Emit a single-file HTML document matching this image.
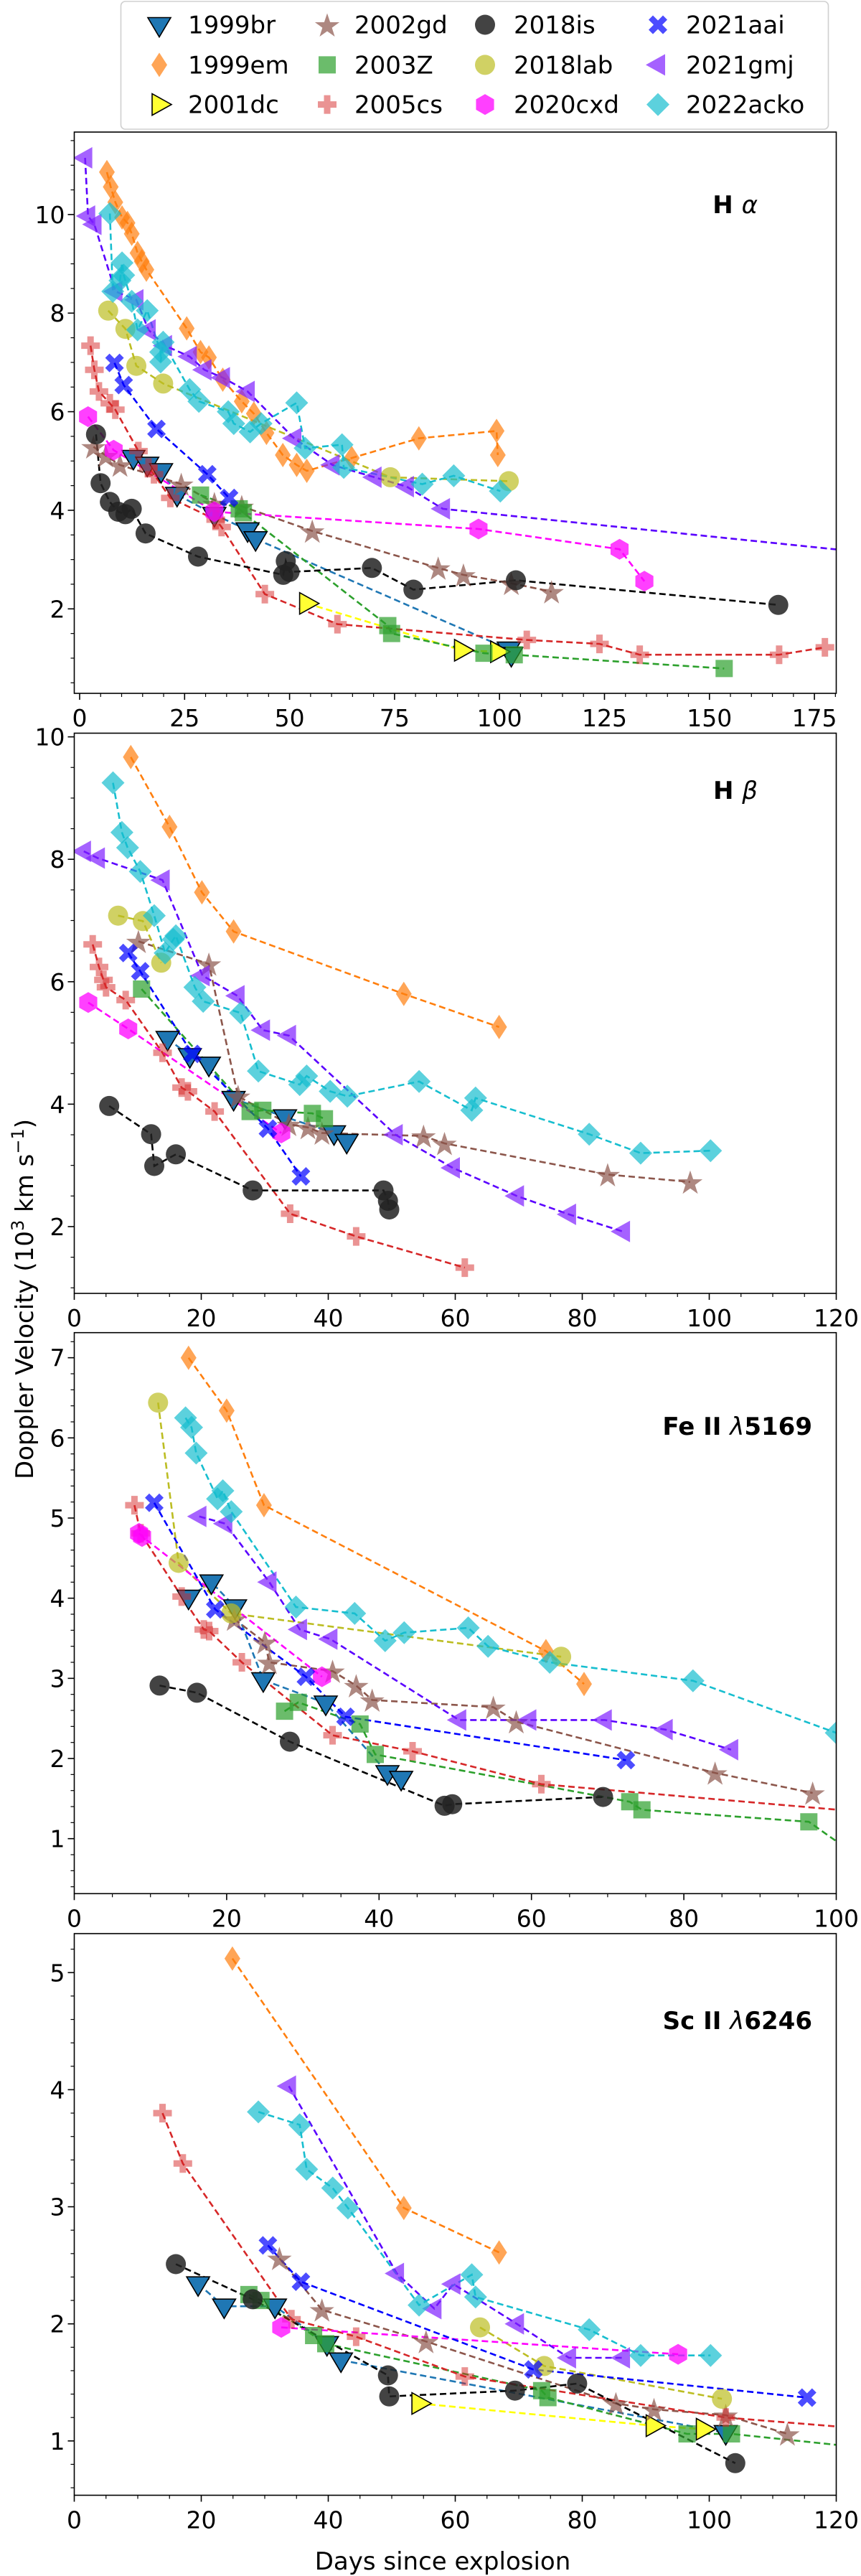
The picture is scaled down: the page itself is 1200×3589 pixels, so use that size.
<!DOCTYPE html>
<html><head><meta charset="utf-8"><title>Doppler velocity evolution</title>
<style>
html,body{margin:0;padding:0;background:#fff;}
svg{display:block;font-family:"DejaVu Sans","Liberation Sans",sans-serif;}
</style></head>
<body>
<svg id="fig" width="1200" height="3589" viewBox="0 0 1200 3589" xmlns="http://www.w3.org/2000/svg">
<rect x="0" y="0" width="1200" height="3589" fill="#fff"/>
</svg>
<script>
// ---------- data: [day, velocity (10^3 km/s)] ----------
const snNames = ["1999br","1999em","2001dc","2002gd","2003Z","2005cs","2018is","2018lab","2020cxd","2021aai","2021gmj","2022acko"];

// H alpha
const ha_1999br = [[12.8,5.07],[16.1,4.93],[19.4,4.80],[23.2,4.32],[32.1,3.91],[40.0,3.60],[41.9,3.42],[102.2,1.18],[102.8,1.07]];
const ha_1999em = [[6.5,10.86],[7.4,10.56],[8.5,10.25],[10.1,9.94],[11.4,9.83],[12.4,9.61],[13.8,9.22],[14.8,9.05],[15.9,8.88],[25.5,7.69],[28.8,7.21],[30.8,7.10],[34.1,6.65],[38.6,6.21],[41.5,5.96],[44.5,5.57],[48.4,5.12],[51.7,4.92],[54.1,4.80],[64.8,5.06],[80.8,5.46],[99.3,5.61],[99.6,5.12]];
const ha_2001dc = [[54.1,2.11],[91.0,1.16],[99.6,1.13]];
const ha_2002gd = [[3.3,5.29],[6.2,5.11],[9.6,4.92],[24.2,4.53],[32.1,4.14],[38.6,4.08],[55.4,3.58],[85.4,2.83],[91.4,2.69],[102.8,2.52],[112.4,2.35]];
const ha_2003Z = [[28.8,4.31],[38.0,4.03],[39.0,3.95],[73.4,1.66],[74.3,1.50],[96.3,1.10],[103.5,1.07],[153.5,0.79]];
const ha_2005cs = [[2.6,7.34],[3.5,6.85],[4.6,6.41],[7.2,6.17],[8.5,6.04],[14.0,5.20],[16.4,4.87],[17.7,4.73],[21.6,4.25],[32.4,3.81],[33.8,3.66],[44.1,2.30],[61.4,1.69],[106.5,1.37],[123.8,1.29],[133.4,1.07],[166.6,1.07],[177.5,1.22]];
const ha_2018is = [[3.9,5.54],[5.0,4.55],[7.2,4.17],[9.2,3.97],[10.9,3.92],[12.4,4.03],[15.7,3.53],[28.2,3.06],[48.5,2.69],[49.1,2.97],[50.0,2.75],[69.6,2.83],[79.5,2.39],[103.9,2.58],[166.4,2.08]];
const ha_2018lab = [[6.8,8.05],[10.9,7.68],[13.5,6.93],[19.9,6.57],[74.0,4.67],[102.2,4.59]];
const ha_2020cxd = [[2.0,5.90],[8.1,5.22],[32.1,3.97],[95.0,3.62],[128.6,3.21],[134.5,2.56]];
const ha_2021aai = [[8.3,6.99],[10.5,6.54],[18.3,5.65],[30.4,4.73],[35.6,4.25]];
const ha_2021gmj = [[1.3,11.15],[2.0,9.97],[3.5,9.80],[8.5,8.44],[13.5,8.27],[16.4,7.66],[20.3,7.34],[26.2,7.12],[29.7,6.85],[34.1,6.69],[40.0,6.41],[51.1,5.46],[60.2,4.92],[70.2,4.67],[77.9,4.48],[86.5,4.03],[190.0,3.12]];
const ha_2022acko = [[7.2,10.02],[7.9,8.44],[9.6,8.66],[10.1,9.02],[10.5,8.77],[12.4,8.24],[13.8,7.66],[16.1,8.05],[19.3,7.21],[19.3,7.01],[19.9,7.41],[26.2,6.45],[28.4,6.21],[35.4,6.00],[36.7,5.76],[40.6,5.59],[43.2,5.76],[51.7,6.18],[53.7,5.26],[62.5,5.33],[62.9,4.87],[81.6,4.53],[89.1,4.70],[100.2,4.39]];

// H beta
const hb_1999br = [[14.7,5.07],[18.2,4.79],[21.2,4.65],[25.1,4.09],[33.2,3.79],[40.9,3.53],[42.9,3.39]];
const hb_1999em = [[8.9,9.67],[15.0,8.53],[20.1,7.46],[25.1,6.82],[51.9,5.80],[66.9,5.26]];
const hb_2001dc = [];
const hb_2002gd = [[10.1,6.66],[21.2,6.29],[25.8,4.13],[33.8,3.67],[36.8,3.62],[39.0,3.53],[55.0,3.48],[58.3,3.36],[84.0,2.85],[97.0,2.73]];
const hb_2003Z = [[10.6,5.88],[27.7,3.88],[29.7,3.90],[37.5,3.85],[39.4,3.76]];
const hb_2005cs = [[2.9,6.61],[3.9,6.24],[4.6,6.03],[5.0,5.91],[8.1,5.70],[13.9,4.84],[16.9,4.27],[17.9,4.21],[22.1,3.88],[34.0,2.21],[44.4,1.84],[61.5,1.33]];
const hb_2018is = [[5.5,3.97],[12.1,3.51],[12.6,2.99],[16.0,3.18],[28.1,2.59],[48.7,2.59],[49.4,2.42],[49.6,2.28]];
const hb_2018lab = [[6.9,7.08],[10.8,6.99],[13.7,6.31]];
const hb_2020cxd = [[2.2,5.66],[8.5,5.23],[32.6,3.53]];
const hb_2021aai = [[8.5,6.47],[10.4,6.17],[18.6,4.82],[30.5,3.60],[35.7,2.82]];
const hb_2021gmj = [[1.5,8.13],[3.7,8.02],[13.9,7.66],[20.2,6.10],[25.7,5.77],[29.7,5.21],[33.8,5.12],[50.6,3.50],[59.6,2.96],[69.7,2.50],[77.9,2.20],[86.4,1.92]];
const hb_2022acko = [[6.1,9.25],[7.5,8.44],[8.4,8.19],[10.4,7.80],[12.6,7.08],[14.3,6.47],[15.6,6.69],[16.0,6.75],[19.0,5.91],[20.3,5.68],[26.2,5.49],[29.0,4.54],[35.5,4.32],[36.6,4.46],[40.3,4.21],[43.0,4.13],[54.3,4.37],[62.6,3.90],[63.2,4.10],[81.1,3.51],[89.2,3.20],[100.2,3.24]];

// Fe II 5169
const fe_1999br = [[15.0,4.01],[18.0,4.20],[21.1,3.89],[24.8,2.98],[33.0,2.69],[41.1,1.82],[42.9,1.75]];
const fe_1999em = [[15.0,7.00],[20.0,6.34],[24.9,5.16],[61.9,3.34],[66.9,2.93]];
const fe_2001dc = [];
const fe_2002gd = [[21.0,3.74],[25.0,3.45],[25.6,3.20],[33.9,3.09],[37.0,2.91],[39.1,2.73],[55.0,2.64],[58.0,2.46],[84.1,1.82],[96.9,1.57]];
const fe_2003Z = [[27.6,2.59],[29.4,2.70],[37.5,2.43],[39.5,2.05],[72.9,1.46],[74.5,1.36],[96.4,1.21],[104.0,0.70]];
const fe_2005cs = [[7.9,5.16],[8.7,4.81],[14.1,4.02],[17.0,3.61],[17.7,3.59],[22.0,3.20],[33.9,2.29],[44.4,2.09],[61.3,1.68],[110.0,1.28]];
const fe_2018is = [[11.2,2.91],[16.1,2.82],[28.3,2.21],[48.6,1.41],[49.6,1.43],[69.4,1.52]];
const fe_2018lab = [[11.0,6.44],[13.7,4.44],[20.6,3.81],[63.9,3.27]];
const fe_2020cxd = [[8.5,4.81],[8.9,4.77],[32.5,3.02]];
const fe_2021aai = [[10.5,5.19],[18.5,3.86],[30.4,3.02],[35.6,2.52],[72.4,1.98]];
const fe_2021gmj = [[16.4,5.02],[19.8,4.93],[25.6,4.20],[29.6,3.61],[33.6,3.49],[50.5,2.48],[59.7,2.48],[69.6,2.48],[77.6,2.36],[86.2,2.11]];
const fe_2022acko = [[14.6,6.25],[15.4,6.13],[16.0,5.81],[18.8,5.24],[19.5,5.34],[20.6,5.08],[29.1,3.89],[36.8,3.81],[40.8,3.47],[43.3,3.57],[51.7,3.63],[54.3,3.40],[62.4,3.20],[81.2,2.97],[100.0,2.32]];

// Sc II 6246
const sc_1999br = [[19.5,2.34],[23.6,2.15],[31.6,2.15],[39.8,1.83],[42.0,1.69],[102.6,1.07]];
const sc_1999em = [[24.9,5.12],[51.9,2.99],[66.9,2.61]];
const sc_2001dc = [[54.3,1.32],[91.2,1.13],[99.1,1.10]];
const sc_2002gd = [[32.3,2.56],[39.0,2.12],[55.4,1.85],[85.3,1.32],[91.3,1.27],[102.6,1.22],[112.3,1.06]];
const sc_2003Z = [[27.5,2.25],[29.4,2.20],[37.7,1.90],[39.6,1.83],[73.6,1.43],[74.6,1.37],[96.5,1.06],[103.5,1.06],[130.0,0.91]];
const sc_2005cs = [[13.9,3.80],[17.1,3.37],[34.2,2.04],[44.4,1.89],[61.5,1.55],[102.6,1.20],[130.0,1.08]];
const sc_2018is = [[16.0,2.51],[28.1,2.21],[49.4,1.56],[49.6,1.38],[69.4,1.43],[79.2,1.49],[104.1,0.81]];
const sc_2018lab = [[63.9,1.97],[74.0,1.64],[102.0,1.36]];
const sc_2020cxd = [[32.6,1.97],[95.1,1.74]];
const sc_2021aai = [[30.5,2.67],[35.7,2.36],[72.3,1.61],[115.4,1.37]];
const sc_2021gmj = [[33.8,4.03],[50.8,2.43],[56.7,2.13],[59.7,2.34],[69.7,2.00],[77.9,1.71],[86.4,1.71]];
const sc_2022acko = [[29.0,3.81],[35.5,3.70],[36.6,3.32],[40.7,3.16],[43.1,2.99],[54.3,2.16],[62.6,2.42],[63.2,2.23],[81.1,1.95],[89.2,1.73],[100.2,1.73]];

const haTicksX = [0,25,50,75,100,125,150,175];
const haTicksY = [2,4,6,8,10];
const hbTicksX = [0,20,40,60,80,100,120];
const hbTicksY = [2,4,6,8,10];
const feTicksX = [0,20,40,60,80,100];
const feTicksY = [1,2,3,4,5,6,7];
const scTicksX = [0,20,40,60,80,100,120];
const scTicksY = [1,2,3,4,5];

// ---------- styles ----------
const styles = {
 "1999br":{m:"v",fc:"#1f77b4",fo:1,ec:"#000",lc:"#1f77b4"},
 "1999em":{m:"d",fc:"#ff7f0e",fo:0.7,ec:"none",lc:"#ff7f0e"},
 "2001dc":{m:">",fc:"#ffff33",fo:1,ec:"#000",lc:"#ffff00"},
 "2002gd":{m:"*",fc:"#8c564b",fo:0.7,ec:"none",lc:"#8c564b"},
 "2003Z":{m:"s",fc:"#2ca02c",fo:0.7,ec:"none",lc:"#2ca02c"},
 "2005cs":{m:"P",fc:"#d62728",fo:0.5,ec:"none",lc:"#d62728"},
 "2018is":{m:"o",fc:"#222",fo:0.85,ec:"none",lc:"#000"},
 "2018lab":{m:"o",fc:"#bcbd22",fo:0.7,ec:"none",lc:"#bcbd22"},
 "2020cxd":{m:"h",fc:"#ff00ff",fo:0.75,ec:"none",lc:"#ff00ff"},
 "2021aai":{m:"X",fc:"#0000ff",fo:0.7,ec:"none",lc:"#0000ff"},
 "2021gmj":{m:"<",fc:"#7f1fff",fo:0.7,ec:"none",lc:"#5a00ff"},
 "2022acko":{m:"D",fc:"#17becf",fo:0.7,ec:"none",lc:"#17becf"}
};

const NS="http://www.w3.org/2000/svg";
const svg=document.getElementById("fig");
function mk(tag,attrs,parent){const e=document.createElementNS(NS,tag);for(const k in attrs)e.setAttribute(k,attrs[k]);(parent||svg).appendChild(e);return e;}

function markerPath(m){
 switch(m){
  case "o": return "M -14 0 A 14 14 0 1 0 14 0 A 14 14 0 1 0 -14 0 Z";
  case "s": return "M -12 -12 H 12 V 12 H -12 Z";
  case "v": return "M -16 -10 L 16 -10 L 0 17 Z";
  case ">": return "M -10 -15 L 17 0 L -10 15 Z";
  case "<": return "M 10 -15 L -17 0 L 10 15 Z";
  case "D": return "M 0 -16 L 16 0 L 0 16 L -16 0 Z";
  case "d": return "M 0 -17 L 11 0 L 0 17 L -11 0 Z";
  case "h": {let p="";for(let i=0;i<6;i++){const a=Math.PI/6+i*Math.PI/3;p+=(i?"L ":"M ")+(14.5*Math.cos(a)).toFixed(2)+" "+(14.5*Math.sin(a)).toFixed(2)+" ";}return p+"Z";}
  case "*": {let p="";for(let i=0;i<10;i++){const a=-Math.PI/2+i*Math.PI/5;const rr=i%2?7:18;p+=(i?"L ":"M ")+(rr*Math.cos(a)).toFixed(2)+" "+(rr*Math.sin(a)+2).toFixed(2)+" ";}return p+"Z";}
  case "P": return "M -4.5 -13 H 4.5 V -4.5 H 13 V 4.5 H 4.5 V 13 H -4.5 V 4.5 H -13 V -4.5 H -4.5 Z";
  case "X": return "M -7 -13 L 0 -6 L 7 -13 L 13 -7 L 6 0 L 13 7 L 7 13 L 0 6 L -7 13 L -13 7 L -6 0 L -13 -7 Z";
 }
}

const panels=[
 {key:"ha",label:"halpha",x0:103.5,x1:1165.5,y0:184,y1:966,xd:[-1.28,180.2],yd:[0.286,11.673],tx:haTicksX,ty:haTicksY,mx:5,my:0.5,title:["H ","α"],tx1:1056,tyb:297},
 {key:"hb",label:"hbeta",x0:103.5,x1:1165.5,y0:1021.5,y1:1802,xd:[0,120],yd:[0.909,10.06],tx:hbTicksX,ty:hbTicksY,mx:5,my:0.5,title:["H ","β"],tx1:1056,tyb:1113},
 {key:"fe",label:"feii",x0:103.5,x1:1165.5,y0:1856.7,y1:2638.3,xd:[0,100],yd:[0.314,7.313],tx:feTicksX,ty:feTicksY,mx:5,my:0.2,title:["Fe II ","λ","5169"],tx1:1132,tyb:1999},
 {key:"sc",label:"scii",x0:103.5,x1:1165.5,y0:2694,y1:3476.5,xd:[0,120],yd:[0.536,5.333],tx:scTicksX,ty:scTicksY,mx:5,my:0.2,title:["Sc II ","λ","6246"],tx1:1132,tyb:2827}
];
const dataSets={ha:{"1999br":ha_1999br,"1999em":ha_1999em,"2001dc":ha_2001dc,"2002gd":ha_2002gd,"2003Z":ha_2003Z,"2005cs":ha_2005cs,"2018is":ha_2018is,"2018lab":ha_2018lab,"2020cxd":ha_2020cxd,"2021aai":ha_2021aai,"2021gmj":ha_2021gmj,"2022acko":ha_2022acko},
 hb:{"1999br":hb_1999br,"1999em":hb_1999em,"2001dc":hb_2001dc,"2002gd":hb_2002gd,"2003Z":hb_2003Z,"2005cs":hb_2005cs,"2018is":hb_2018is,"2018lab":hb_2018lab,"2020cxd":hb_2020cxd,"2021aai":hb_2021aai,"2021gmj":hb_2021gmj,"2022acko":hb_2022acko},
 fe:{"1999br":fe_1999br,"1999em":fe_1999em,"2001dc":fe_2001dc,"2002gd":fe_2002gd,"2003Z":fe_2003Z,"2005cs":fe_2005cs,"2018is":fe_2018is,"2018lab":fe_2018lab,"2020cxd":fe_2020cxd,"2021aai":fe_2021aai,"2021gmj":fe_2021gmj,"2022acko":fe_2022acko},
 sc:{"1999br":sc_1999br,"1999em":sc_1999em,"2001dc":sc_2001dc,"2002gd":sc_2002gd,"2003Z":sc_2003Z,"2005cs":sc_2005cs,"2018is":sc_2018is,"2018lab":sc_2018lab,"2020cxd":sc_2020cxd,"2021aai":sc_2021aai,"2021gmj":sc_2021gmj,"2022acko":sc_2022acko}};

const defs=mk("defs",{});
panels.forEach((p,pi)=>{
 const sx=v=>p.x0+(v-p.xd[0])/(p.xd[1]-p.xd[0])*(p.x1-p.x0);
 const sy=v=>p.y1-(v-p.yd[0])/(p.yd[1]-p.yd[0])*(p.y1-p.y0);
 const cp=mk("clipPath",{id:"clip"+pi},defs);
 mk("rect",{x:p.x0,y:p.y0,width:p.x1-p.x0,height:p.y1-p.y0},cp);
 const g=mk("g",{});
 
 
 const plot=mk("g",{"clip-path":"url(#clip"+pi+")"},g);
 const ds=dataSets[p.key];
 snNames.forEach(n=>{
  const pts=ds[n].slice().sort((a,b)=>a[0]-b[0]);
  if(pts.length<2)return;
  const st=styles[n];
  const pl=mk("polyline",{points:pts.map(d=>sx(d[0]).toFixed(1)+","+sy(d[1]).toFixed(1)).join(" "),fill:"none",stroke:st.lc,"stroke-width":2.6,"stroke-dasharray":"9,5"},plot);
  
  
 });
 snNames.forEach(n=>{
  const st=styles[n];
  ds[n].forEach(d=>{
   const m=mk("path",{d:markerPath(st.m),transform:"translate("+sx(d[0]).toFixed(1)+","+sy(d[1]).toFixed(1)+")",fill:st.fc,"fill-opacity":st.fo,stroke:st.ec,"stroke-width":st.ec==="none"?0:1.6},plot);
   
   
  });
 });
 const fr=mk("rect",{x:p.x0,y:p.y0,width:p.x1-p.x0,height:p.y1-p.y0,fill:"none",stroke:"#000","stroke-width":1.6},g);
 
 
 for(let v=Math.ceil(p.xd[0]/p.mx)*p.mx; v<=p.xd[1]+1e-6; v+=p.mx){
  const isMaj=p.tx.some(t=>Math.abs(t-v)<1e-6);
  mk("line",{x1:sx(v),x2:sx(v),y1:p.y1,y2:p.y1+(isMaj?9:5),stroke:"#000","stroke-width":isMaj?1.6:1.2},g);
 }
 p.tx.forEach(v=>{
  const t=mk("text",{x:sx(v),y:p.y1+46,"text-anchor":"middle","font-size":33,fill:"#000"},g);
  t.textContent=v;
  
  
 });
 for(let v=Math.ceil(p.yd[0]/p.my-1e-6)*p.my; v<=p.yd[1]+1e-6; v+=p.my){
  const isMaj=p.ty.some(t=>Math.abs(t-v)<1e-6);
  mk("line",{x1:p.x0,x2:p.x0-(isMaj?9:5),y1:sy(v),y2:sy(v),stroke:"#000","stroke-width":isMaj?1.6:1.2},g);
 }
 p.ty.forEach(v=>{
  const t=mk("text",{x:p.x0-13,y:sy(v)+12,"text-anchor":"end","font-size":33,fill:"#000"},g);
  t.textContent=v;
  
  
 });
 const tt=mk("text",{x:p.tx1,y:p.tyb,"text-anchor":"end","font-size":34,"font-weight":"bold",fill:"#000"},g);
 
 
 p.title.forEach((s,i)=>{const ts=mk("tspan",{},tt);if(i===1){ts.setAttribute("font-style","italic");ts.setAttribute("font-weight","normal");}ts.textContent=s;});
});

const xl=mk("text",{x:617,y:3580,"text-anchor":"middle","font-size":34,fill:"#000"});
xl.textContent="Days since explosion";


const yl=mk("text",{x:0,y:0,"text-anchor":"middle","font-size":34,fill:"#000",transform:"translate(46,1810) rotate(-90)"});


yl.innerHTML='Doppler Velocity (10<tspan dy="-13" font-size="24">3</tspan><tspan dy="13"> km s</tspan><tspan dy="-13" font-size="24">−1</tspan><tspan dy="13">)</tspan>';

const lg=mk("g",{});


mk("rect",{x:168.5,y:2,width:986,height:178,rx:6,fill:"#fff",stroke:"#d0d0d0","stroke-width":1.6},lg);
const colMarkX=[222,456,676,917], colTextX=[262,494,716,956], rowY=[34.5,90.4,145.6];
snNames.forEach((n,i)=>{
 const c=Math.floor(i/3), r=i%3, st=styles[n];
 const e=mk("g",{},lg);
 
 
 mk("path",{d:markerPath(st.m),transform:"translate("+colMarkX[c]+","+rowY[r]+")",fill:st.fc,"fill-opacity":st.fo,stroke:st.ec,"stroke-width":st.ec==="none"?0:1.6},e);
 const t=mk("text",{x:colTextX[c],y:rowY[r]+12,"font-size":34,fill:"#000"},e);
 t.textContent=n;
});
</script>
</body></html>
